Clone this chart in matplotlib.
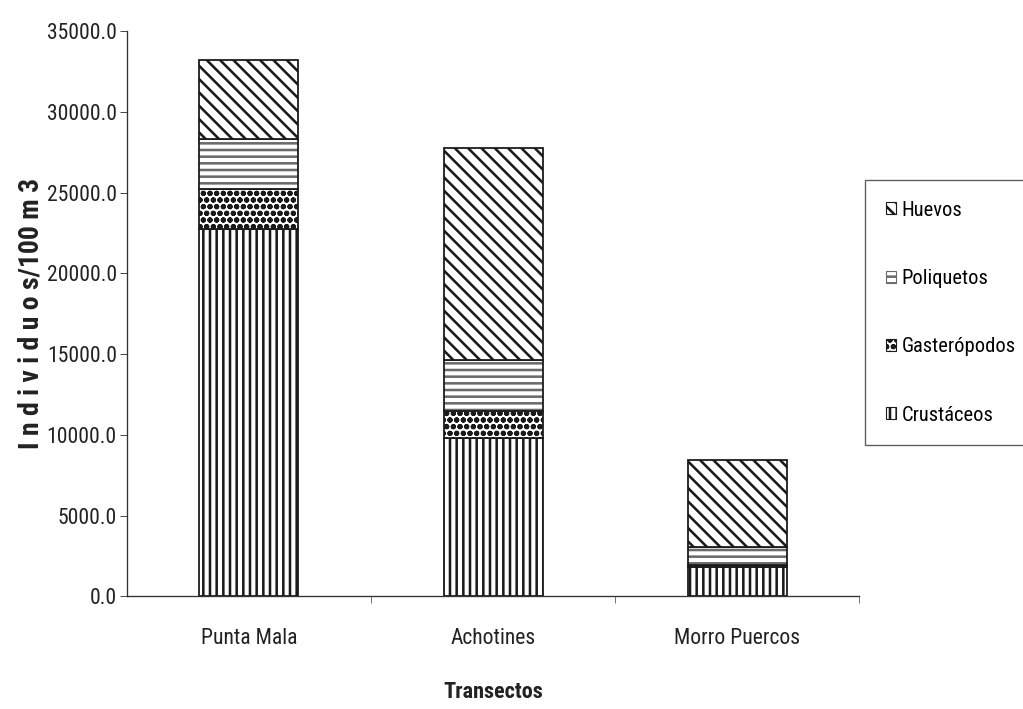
import numpy as np
import matplotlib
matplotlib.use("Agg")
import matplotlib.pyplot as plt
from matplotlib.patches import Patch

plt.rcParams['font.family'] = ['Roboto Condensed', 'DejaVu Sans']
plt.rcParams['hatch.linewidth'] = 2.3

# datos (individuos / 100 m3)
transectos = ['Punta Mala', 'Achotines', 'Morro Puercos']
crustaceos = [22740, 9790, 1800]
gasteropodos = [2480, 1670, 150]
poliquetos = [3090, 3160, 1090]
huevos = [4890, 13140, 5390]

grupos = ['Crustáceos', 'Gasterópodos', 'Poliquetos', 'Huevos']
series = [crustaceos, gasteropodos, poliquetos, huevos]
hatches = ['||', 'oo', '--', '\\\\']
hcolors = ['#1a1a1a', '#1a1a1a', '#6a6a6a', '#1a1a1a']

dpi = 80
fig = plt.figure(figsize=(1023 / dpi, 709 / dpi), dpi=dpi)
ax = fig.add_axes([0.124, 0.159, 0.716, 0.797])

x = np.arange(len(transectos))
bottom = np.zeros(len(transectos))
for nombre, vals, h, hc in zip(grupos, series, hatches, hcolors):
    ax.bar(x, vals, 0.405, bottom=bottom, color='white', edgecolor=hc,
           hatch=h, linewidth=0, label=nombre)
    # contorno negro de cada segmento
    ax.bar(x, vals, 0.405, bottom=bottom, fill=False, edgecolor='#1a1a1a', linewidth=1.6)
    bottom += np.array(vals)

fs = 19.5
ax.set_xlim(-0.5, 2.5)
ax.set_ylim(0, 35000)
ax.set_yticks(np.arange(0, 35001, 5000))
ax.set_yticklabels(['%.1f' % v for v in np.arange(0, 35001, 5000)], fontsize=fs, color='#222')
ax.set_xticks(x)
ax.set_xticklabels(transectos, fontsize=fs, color='#222')
ax.tick_params(axis='x', length=0, pad=29)
ax.set_xticks([0.5, 1.5, 2.5], minor=True)
ax.tick_params(axis='x', which='minor', length=6, color='#333')
ax.tick_params(axis='y', length=6, color='#333', pad=3)
for s in ['top', 'right']:
    ax.spines[s].set_visible(False)
for s in ['left', 'bottom']:
    ax.spines[s].set_color('#333')
    ax.spines[s].set_linewidth(1.2)

ax.set_ylabel('I n d i v i d u o s/100 m 3', fontsize=25, fontweight='bold', color='#222', labelpad=2)
ax.set_xlabel('Transectos', fontsize=20, fontweight='bold', color='#222', labelpad=28)

handles = [Patch(facecolor='white', edgecolor=hc, hatch=h, label=g)
           for g, h, hc in zip(grupos, hatches, hcolors)][::-1]
leg = fig.legend(handles=handles, loc='upper left', bbox_to_anchor=(0.846, 0.746),
                 fontsize=18.5, frameon=True, fancybox=False, edgecolor='#333',
                 handlelength=0.5, handleheight=0.5, handletextpad=0.25,
                 labelspacing=2.4, borderpad=1.0, borderaxespad=0)
leg.get_frame().set_linewidth(1.2)

fig.savefig('out.png', dpi=dpi)
